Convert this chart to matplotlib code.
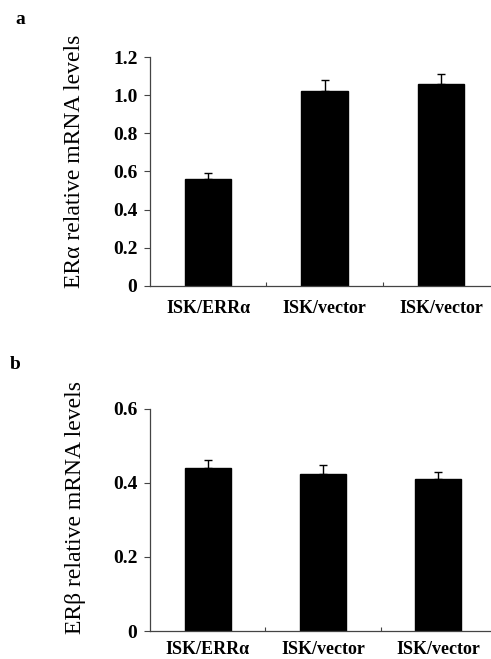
"""ERα / ERβ relative mRNA levels, two-panel bar chart."""

import matplotlib.pyplot as plt
import numpy as np

categories = ["ISK/ERRα", "ISK/vector", "ISK/vector"]

era_values = [0.56, 1.025, 1.06]
era_errors = [0.03, 0.055, 0.05]
era_ticks = [0, 0.2, 0.4, 0.6, 0.8, 1.0, 1.2]
era_ticklabels = ["0", "0.2", "0.4", "0.6", "0.8", "1.0", "1.2"]

erb_values = [0.44, 0.423, 0.411]
erb_errors = [0.022, 0.025, 0.019]
erb_ticks = [0, 0.2, 0.4, 0.6]
erb_ticklabels = ["0", "0.2", "0.4", "0.6"]

plt.rcParams["font.family"] = ["Liberation Serif", "DejaVu Serif"]

W, H = 491, 659
fig = plt.figure(figsize=(W / 100, H / 100), dpi=100)


def draw_panel(ax, values, errors, ticks, ticklabels, xpad):
    x = np.arange(len(values))
    ax.bar(x, values, width=0.4, color="black", edgecolor="black", zorder=2)
    ax.errorbar(x, values, yerr=[np.zeros(len(errors)), errors], fmt="none",
                ecolor="black", elinewidth=1.0, capsize=3, capthick=1.0, zorder=3)
    ax.set_xlim(-0.5, len(values) - 0.5)
    ax.set_ylim(ticks[0], ticks[-1])
    ax.set_yticks(ticks)
    ax.set_yticklabels(ticklabels, fontsize=14, fontweight="bold")
    ax.set_xticks(x)
    ax.set_xticklabels(categories, fontsize=13, fontweight="bold")
    ax.tick_params(axis="x", length=0, pad=xpad)
    ax.tick_params(axis="y", direction="out", length=4, width=0.8, color="#444444", pad=5)
    # small inward ticks at the category borders
    ax.set_xticks(np.arange(0.5, len(values) - 0.5), minor=True)
    ax.tick_params(axis="x", which="minor", direction="in", length=3, width=0.8, color="#444444")
    for side in ("top", "right"):
        ax.spines[side].set_visible(False)
    for side in ("left", "bottom"):
        ax.spines[side].set_color("#444444")
        ax.spines[side].set_linewidth(0.9)


ax_a = fig.add_axes([150 / W, 373.3 / H, 349 / W, 228.4 / H])
draw_panel(ax_a, era_values, era_errors, era_ticks, era_ticklabels, xpad=10)

ax_b = fig.add_axes([150 / W, 28 / H, 346 / W, 222.3 / H])
draw_panel(ax_b, erb_values, erb_errors, erb_ticks, erb_ticklabels, xpad=7)

fig.text(75 / W, 1 - 161 / H, "ERα relative mRNA levels", rotation=90,
         ha="center", va="center", fontsize=17)
fig.text(75 / W, 1 - 507.5 / H, "ERβ relative mRNA levels", rotation=90,
         ha="center", va="center", fontsize=17)

fig.text(20 / W, 1 - 20 / H, "a", ha="center", va="center", fontsize=14, fontweight="bold")
fig.text(15 / W, 1 - 364 / H, "b", ha="center", va="center", fontsize=14, fontweight="bold")

fig.savefig("out.png", dpi=100)
